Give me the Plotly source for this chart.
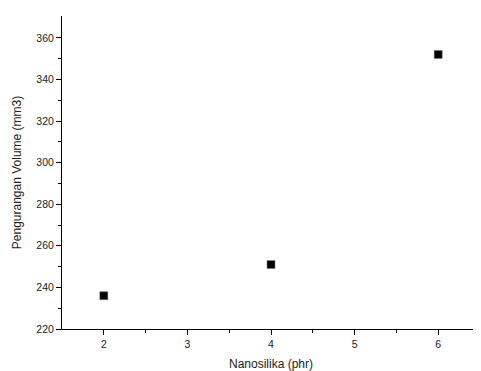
import plotly.graph_objects as go

nanosilika = [2, 4, 6]
pengurangan_volume = [236, 251, 352]

fig = go.Figure()
fig.add_trace(go.Scatter(
    x=nanosilika, y=pengurangan_volume, mode="markers",
    marker=dict(symbol="square", size=8, color="black",
                line=dict(color="#777777", width=0.5)),
    showlegend=False))

axis_common = dict(
    showgrid=False, zeroline=False, showline=True, linecolor="black", linewidth=1,
    ticks="outside", ticklen=5, tickwidth=1, tickcolor="black",
    tickfont=dict(family="Liberation Sans, Arial", size=10.5, color="#222"),
    title_font=dict(family="Liberation Sans, Arial", size=12, color="#222"),
    mirror=False,
)
fig.update_layout(
    width=473, height=363, plot_bgcolor="white", paper_bgcolor="white",
    margin=dict(l=54, r=1, t=8, b=42),
    xaxis=dict(range=[1.5, 6.5], tickvals=[2, 3, 4, 5, 6],
               minor=dict(tickvals=[2.5, 3.5, 4.5, 5.5], ticks="outside", ticklen=3, tickcolor="black"),
               title=dict(text="Nanosilika (phr)", standoff=12), **axis_common),
    yaxis=dict(range=[220, 370.5], tickvals=[220, 240, 260, 280, 300, 320, 340, 360],
               minor=dict(tickvals=[230, 250, 270, 290, 310, 330, 350], ticks="outside", ticklen=3, tickcolor="black"),
               title=dict(text="Pengurangan Volume (mm3)", standoff=12), **axis_common),
)
fig.write_html("out.html")
